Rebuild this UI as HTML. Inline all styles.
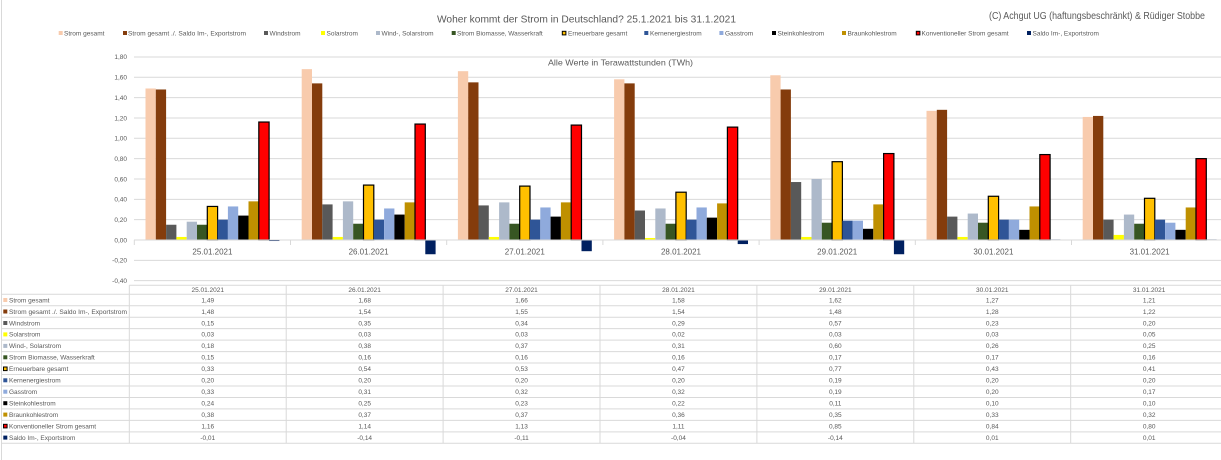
<!DOCTYPE html>
<html>
<head>
<meta charset="utf-8">
<style>
html,body{margin:0;padding:0;background:#fff;}
svg{display:block;font-family:"Liberation Sans",Arial,sans-serif;}
.t{fill:#595959;}
.c0{fill:#F8CBAD}.c1{fill:#843C0C}.c2{fill:#595959}.c3{fill:#FFFF00}.c4{fill:#ADB9CA}.c5{fill:#375623}
.c6{fill:#FFC000;stroke:#000;stroke-width:1.2}.c7{fill:#2F5597}.c8{fill:#8FAADC}.c9{fill:#000}.c10{fill:#BF9000}
.c11{fill:#FF0000;stroke:#000;stroke-width:1.2}.c12{fill:#002060}
.g{stroke:#D9D9D9;stroke-width:1;fill:none}
.lg{font-size:6.5px;fill:#595959}
.yl{font-size:6.5px;fill:#595959;text-anchor:end}
.tv{font-size:6.5px;fill:#595959;text-anchor:middle}
</style>
</head>
<body>
<svg width="1221" height="460" viewBox="0 0 1221 460" xmlns="http://www.w3.org/2000/svg">
<rect x="0" y="0" width="1221" height="460" fill="#fff"/>
<line class="g" x1="1.5" y1="0" x2="1.5" y2="460"/>

<!-- Title -->
<text x="437" y="22.7" font-size="10.5" class="t" textLength="299" lengthAdjust="spacingAndGlyphs">Woher kommt der Strom in Deutschland? 25.1.2021 bis 31.1.2021</text>
<text x="989" y="19" font-size="10" class="t" textLength="216" lengthAdjust="spacingAndGlyphs">(C) Achgut UG (haftungsbeschränkt) &amp; Rüdiger Stobbe</text>

<!-- Legend -->
<g>
<rect class="c0" x="58.7" y="31" width="4" height="4"/><text class="lg" x="64" y="35.4">Strom gesamt</text>
<rect class="c1" x="123" y="31" width="4" height="4"/><text class="lg" x="128" y="35.4" textLength="118" lengthAdjust="spacingAndGlyphs">Strom gesamt ./. Saldo Im-, Exportstrom</text>
<rect class="c2" x="264" y="31" width="4" height="4"/><text class="lg" x="269.5" y="35.4">Windstrom</text>
<rect class="c3" x="321" y="31" width="4" height="4"/><text class="lg" x="326.5" y="35.4">Solarstrom</text>
<rect class="c4" x="376" y="31" width="4" height="4"/><text class="lg" x="381.5" y="35.4">Wind-, Solarstrom</text>
<rect class="c5" x="451.7" y="31" width="4" height="4"/><text class="lg" x="457" y="35.4">Strom Biomasse, Wasserkraft</text>
<rect class="c6" x="562.3" y="31.3" width="3.6" height="3.6" style="stroke-width:1"/><text class="lg" x="568" y="35.4">Erneuerbare gesamt</text>
<rect class="c7" x="644.3" y="31" width="4" height="4"/><text class="lg" x="650" y="35.4">Kernenergiestrom</text>
<rect class="c8" x="719.4" y="31" width="4" height="4"/><text class="lg" x="725" y="35.4">Gasstrom</text>
<rect class="c9" x="772" y="31" width="4" height="4"/><text class="lg" x="777.5" y="35.4">Steinkohlestrom</text>
<rect class="c10" x="842" y="31" width="4" height="4"/><text class="lg" x="847.5" y="35.4">Braunkohlestrom</text>
<rect class="c11" x="916.3" y="31.3" width="3.6" height="3.6" style="stroke-width:1"/><text class="lg" x="921.5" y="35.4">Konventioneller Strom gesamt</text>
<rect class="c12" x="1027" y="31" width="4" height="4"/><text class="lg" x="1032.5" y="35.4">Saldo Im-, Exportstrom</text>
</g>

<!-- Gridlines -->
<g class="g">
<line x1="134" y1="56.94" x2="1221" y2="56.94"/>
<line x1="134" y1="77.28" x2="1221" y2="77.28"/>
<line x1="134" y1="97.62" x2="1221" y2="97.62"/>
<line x1="134" y1="117.96" x2="1221" y2="117.96"/>
<line x1="134" y1="138.3" x2="1221" y2="138.3"/>
<line x1="134" y1="158.64" x2="1221" y2="158.64"/>
<line x1="134" y1="178.98" x2="1221" y2="178.98"/>
<line x1="134" y1="199.32" x2="1221" y2="199.32"/>
<line x1="134" y1="219.66" x2="1221" y2="219.66"/>
<line x1="134" y1="260.34" x2="1221" y2="260.34"/>
<line x1="134" y1="280.68" x2="1221" y2="280.68"/>
</g>

<!-- Y labels -->
<g>
<text class="yl" x="127" y="59.2">1,80</text>
<text class="yl" x="127" y="79.6">1,60</text>
<text class="yl" x="127" y="99.9">1,40</text>
<text class="yl" x="127" y="120.3">1,20</text>
<text class="yl" x="127" y="140.6">1,00</text>
<text class="yl" x="127" y="160.9">0,80</text>
<text class="yl" x="127" y="181.3">0,60</text>
<text class="yl" x="127" y="201.6">0,40</text>
<text class="yl" x="127" y="222">0,20</text>
<text class="yl" x="127" y="242.3">0,00</text>
<text class="yl" x="127" y="262.6">-0,20</text>
<text class="yl" x="127" y="283">-0,40</text>
</g>

<text x="548" y="65.5" font-size="8.5" class="t" textLength="145" lengthAdjust="spacingAndGlyphs">Alle Werte in Terawattstunden (TWh)</text>

<!-- Bars -->
<g transform="translate(145.5,240) scale(1,-1)">
<rect class="c0" x="0" y="0" width="10.3" height="151.53"/>
<rect class="c1" x="10.3" y="0" width="10.3" height="150.52"/>
<rect class="c2" x="20.6" y="0" width="10.3" height="15.26"/>
<rect class="c3" x="30.9" y="0" width="10.3" height="3.05"/>
<rect class="c4" x="41.2" y="0" width="10.3" height="18.31"/>
<rect class="c5" x="51.5" y="0" width="10.3" height="15.26"/>
<rect class="c6" x="61.8" y="0" width="10.3" height="33.56"/>
<rect class="c7" x="72.1" y="0" width="10.3" height="20.34"/>
<rect class="c8" x="82.4" y="0" width="10.3" height="33.56"/>
<rect class="c9" x="92.7" y="0" width="10.3" height="24.41"/>
<rect class="c10" x="103" y="0" width="10.3" height="38.65"/>
<rect class="c11" x="113.3" y="0" width="10.3" height="117.97"/>
<rect class="c12" x="123.6" y="-1.02" width="10.3" height="1.02"/>
</g>
<g transform="translate(301.7,240) scale(1,-1)">
<rect class="c0" x="0" y="0" width="10.3" height="170.86"/>
<rect class="c1" x="10.3" y="0" width="10.3" height="156.62"/>
<rect class="c2" x="20.6" y="0" width="10.3" height="35.6"/>
<rect class="c3" x="30.9" y="0" width="10.3" height="3.05"/>
<rect class="c4" x="41.2" y="0" width="10.3" height="38.65"/>
<rect class="c5" x="51.5" y="0" width="10.3" height="16.27"/>
<rect class="c6" x="61.8" y="0" width="10.3" height="54.92"/>
<rect class="c7" x="72.1" y="0" width="10.3" height="20.34"/>
<rect class="c8" x="82.4" y="0" width="10.3" height="31.53"/>
<rect class="c9" x="92.7" y="0" width="10.3" height="25.43"/>
<rect class="c10" x="103" y="0" width="10.3" height="37.63"/>
<rect class="c11" x="113.3" y="0" width="10.3" height="115.94"/>
<rect class="c12" x="123.6" y="-14.24" width="10.3" height="14.24"/>
</g>
<g transform="translate(457.9,240) scale(1,-1)">
<rect class="c0" x="0" y="0" width="10.3" height="168.82"/>
<rect class="c1" x="10.3" y="0" width="10.3" height="157.64"/>
<rect class="c2" x="20.6" y="0" width="10.3" height="34.58"/>
<rect class="c3" x="30.9" y="0" width="10.3" height="3.05"/>
<rect class="c4" x="41.2" y="0" width="10.3" height="37.63"/>
<rect class="c5" x="51.5" y="0" width="10.3" height="16.27"/>
<rect class="c6" x="61.8" y="0" width="10.3" height="53.9"/>
<rect class="c7" x="72.1" y="0" width="10.3" height="20.34"/>
<rect class="c8" x="82.4" y="0" width="10.3" height="32.54"/>
<rect class="c9" x="92.7" y="0" width="10.3" height="23.39"/>
<rect class="c10" x="103" y="0" width="10.3" height="37.63"/>
<rect class="c11" x="113.3" y="0" width="10.3" height="114.92"/>
<rect class="c12" x="123.6" y="-11.19" width="10.3" height="11.19"/>
</g>
<g transform="translate(614.1,240) scale(1,-1)">
<rect class="c0" x="0" y="0" width="10.3" height="160.69"/>
<rect class="c1" x="10.3" y="0" width="10.3" height="156.62"/>
<rect class="c2" x="20.6" y="0" width="10.3" height="29.49"/>
<rect class="c3" x="30.9" y="0" width="10.3" height="2.03"/>
<rect class="c4" x="41.2" y="0" width="10.3" height="31.53"/>
<rect class="c5" x="51.5" y="0" width="10.3" height="16.27"/>
<rect class="c6" x="61.8" y="0" width="10.3" height="47.8"/>
<rect class="c7" x="72.1" y="0" width="10.3" height="20.34"/>
<rect class="c8" x="82.4" y="0" width="10.3" height="32.54"/>
<rect class="c9" x="92.7" y="0" width="10.3" height="22.37"/>
<rect class="c10" x="103" y="0" width="10.3" height="36.61"/>
<rect class="c11" x="113.3" y="0" width="10.3" height="112.89"/>
<rect class="c12" x="123.6" y="-4.07" width="10.3" height="4.07"/>
</g>
<g transform="translate(770.3,240) scale(1,-1)">
<rect class="c0" x="0" y="0" width="10.3" height="164.75"/>
<rect class="c1" x="10.3" y="0" width="10.3" height="150.52"/>
<rect class="c2" x="20.6" y="0" width="10.3" height="57.97"/>
<rect class="c3" x="30.9" y="0" width="10.3" height="3.05"/>
<rect class="c4" x="41.2" y="0" width="10.3" height="61.02"/>
<rect class="c5" x="51.5" y="0" width="10.3" height="17.29"/>
<rect class="c6" x="61.8" y="0" width="10.3" height="78.31"/>
<rect class="c7" x="72.1" y="0" width="10.3" height="19.32"/>
<rect class="c8" x="82.4" y="0" width="10.3" height="19.32"/>
<rect class="c9" x="92.7" y="0" width="10.3" height="11.19"/>
<rect class="c10" x="103" y="0" width="10.3" height="35.6"/>
<rect class="c11" x="113.3" y="0" width="10.3" height="86.45"/>
<rect class="c12" x="123.6" y="-14.24" width="10.3" height="14.24"/>
</g>
<g transform="translate(926.5,240) scale(1,-1)">
<rect class="c0" x="0" y="0" width="10.3" height="129.16"/>
<rect class="c1" x="10.3" y="0" width="10.3" height="130.18"/>
<rect class="c2" x="20.6" y="0" width="10.3" height="23.39"/>
<rect class="c3" x="30.9" y="0" width="10.3" height="3.05"/>
<rect class="c4" x="41.2" y="0" width="10.3" height="26.44"/>
<rect class="c5" x="51.5" y="0" width="10.3" height="17.29"/>
<rect class="c6" x="61.8" y="0" width="10.3" height="43.73"/>
<rect class="c7" x="72.1" y="0" width="10.3" height="20.34"/>
<rect class="c8" x="82.4" y="0" width="10.3" height="20.34"/>
<rect class="c9" x="92.7" y="0" width="10.3" height="10.17"/>
<rect class="c10" x="103" y="0" width="10.3" height="33.56"/>
<rect class="c11" x="113.3" y="0" width="10.3" height="85.43"/>
<rect class="c12" x="123.6" y="0" width="10.3" height="0.6"/>
</g>
<g transform="translate(1082.7,240) scale(1,-1)">
<rect class="c0" x="0" y="0" width="10.3" height="123.06"/>
<rect class="c1" x="10.3" y="0" width="10.3" height="124.07"/>
<rect class="c2" x="20.6" y="0" width="10.3" height="20.34"/>
<rect class="c3" x="30.9" y="0" width="10.3" height="5.09"/>
<rect class="c4" x="41.2" y="0" width="10.3" height="25.43"/>
<rect class="c5" x="51.5" y="0" width="10.3" height="16.27"/>
<rect class="c6" x="61.8" y="0" width="10.3" height="41.7"/>
<rect class="c7" x="72.1" y="0" width="10.3" height="20.34"/>
<rect class="c8" x="82.4" y="0" width="10.3" height="17.29"/>
<rect class="c9" x="92.7" y="0" width="10.3" height="10.17"/>
<rect class="c10" x="103" y="0" width="10.3" height="32.54"/>
<rect class="c11" x="113.3" y="0" width="10.3" height="81.36"/>
<rect class="c12" x="123.6" y="0" width="10.3" height="0.6"/>
</g>

<!-- X axis -->
<g class="g">
<line x1="134" y1="240" x2="1221" y2="240"/>
<line x1="134.3" y1="240" x2="134.3" y2="245"/>
<line x1="290.5" y1="240" x2="290.5" y2="245"/>
<line x1="446.7" y1="240" x2="446.7" y2="245"/>
<line x1="602.9" y1="240" x2="602.9" y2="245"/>
<line x1="759.1" y1="240" x2="759.1" y2="245"/>
<line x1="915.3" y1="240" x2="915.3" y2="245"/>
<line x1="1071.5" y1="240" x2="1071.5" y2="245"/>
</g>
<g font-size="8" class="t" text-anchor="middle">
<text x="212.4" y="254.6">25.01.2021</text>
<text x="368.6" y="254.6">26.01.2021</text>
<text x="524.8" y="254.6">27.01.2021</text>
<text x="681" y="254.6">28.01.2021</text>
<text x="837.2" y="254.6">29.01.2021</text>
<text x="993.4" y="254.6">30.01.2021</text>
<text x="1149.6" y="254.6">31.01.2021</text>
</g>

<!-- Table lines -->
<g class="g">
<line x1="129.3" y1="285.3" x2="1221" y2="285.3"/>
<line x1="2" y1="294.3" x2="1221" y2="294.3"/>
<line x1="2" y1="305.76" x2="1221" y2="305.76"/>
<line x1="2" y1="317.22" x2="1221" y2="317.22"/>
<line x1="2" y1="328.68" x2="1221" y2="328.68"/>
<line x1="2" y1="340.14" x2="1221" y2="340.14"/>
<line x1="2" y1="351.6" x2="1221" y2="351.6"/>
<line x1="2" y1="363.06" x2="1221" y2="363.06"/>
<line x1="2" y1="374.52" x2="1221" y2="374.52"/>
<line x1="2" y1="385.98" x2="1221" y2="385.98"/>
<line x1="2" y1="397.44" x2="1221" y2="397.44"/>
<line x1="2" y1="408.9" x2="1221" y2="408.9"/>
<line x1="2" y1="420.36" x2="1221" y2="420.36"/>
<line x1="2" y1="431.82" x2="1221" y2="431.82"/>
<line x1="2" y1="443.28" x2="1221" y2="443.28"/>
<line x1="129.3" y1="285.3" x2="129.3" y2="443.28"/>
<line x1="286.2" y1="285.3" x2="286.2" y2="443.28"/>
<line x1="443.1" y1="285.3" x2="443.1" y2="443.28"/>
<line x1="600" y1="285.3" x2="600" y2="443.28"/>
<line x1="756.9" y1="285.3" x2="756.9" y2="443.28"/>
<line x1="913.8" y1="285.3" x2="913.8" y2="443.28"/>
<line x1="1070.7" y1="285.3" x2="1070.7" y2="443.28"/>
</g>

<!-- Table header -->
<g class="tv">
<text x="207.75" y="291.8">25.01.2021</text>
<text x="364.65" y="291.8">26.01.2021</text>
<text x="521.55" y="291.8">27.01.2021</text>
<text x="678.45" y="291.8">28.01.2021</text>
<text x="835.35" y="291.8">29.01.2021</text>
<text x="992.25" y="291.8">30.01.2021</text>
<text x="1149.15" y="291.8">31.01.2021</text>
</g>

<!-- Row labels -->
<g>
<rect class="c0" x="3.3" y="298" width="4" height="4"/><text class="lg" x="9" y="302.3">Strom gesamt</text>
<rect class="c1" x="3.3" y="309.5" width="4" height="4"/><text class="lg" x="9" y="313.8" textLength="118" lengthAdjust="spacingAndGlyphs">Strom gesamt ./. Saldo Im-, Exportstrom</text>
<rect class="c2" x="3.3" y="321" width="4" height="4"/><text class="lg" x="9" y="325.3">Windstrom</text>
<rect class="c3" x="3.3" y="332.4" width="4" height="4"/><text class="lg" x="9" y="336.7">Solarstrom</text>
<rect class="c4" x="3.3" y="343.9" width="4" height="4"/><text class="lg" x="9" y="348.2">Wind-, Solarstrom</text>
<rect class="c5" x="3.3" y="355.3" width="4" height="4"/><text class="lg" x="9" y="359.6">Strom Biomasse, Wasserkraft</text>
<rect class="c6" x="3.5" y="367" width="3.6" height="3.6" style="stroke-width:1"/><text class="lg" x="9" y="371.1">Erneuerbare gesamt</text>
<rect class="c7" x="3.3" y="378.3" width="4" height="4"/><text class="lg" x="9" y="382.6">Kernenergiestrom</text>
<rect class="c8" x="3.3" y="389.7" width="4" height="4"/><text class="lg" x="9" y="394">Gasstrom</text>
<rect class="c9" x="3.3" y="401.2" width="4" height="4"/><text class="lg" x="9" y="405.5">Steinkohlestrom</text>
<rect class="c10" x="3.3" y="412.6" width="4" height="4"/><text class="lg" x="9" y="416.9">Braunkohlestrom</text>
<rect class="c11" x="3.5" y="424.3" width="3.6" height="3.6" style="stroke-width:1"/><text class="lg" x="9" y="428.4">Konventioneller Strom gesamt</text>
<rect class="c12" x="3.3" y="435.6" width="4" height="4"/><text class="lg" x="9" y="439.9">Saldo Im-, Exportstrom</text>
</g>

<!-- Table values -->
<g class="tv">
<text x="207.75" y="302.3">1,49</text><text x="364.65" y="302.3">1,68</text><text x="521.55" y="302.3">1,66</text><text x="678.45" y="302.3">1,58</text><text x="835.35" y="302.3">1,62</text><text x="992.25" y="302.3">1,27</text><text x="1149.15" y="302.3">1,21</text>
<text x="207.75" y="313.8">1,48</text><text x="364.65" y="313.8">1,54</text><text x="521.55" y="313.8">1,55</text><text x="678.45" y="313.8">1,54</text><text x="835.35" y="313.8">1,48</text><text x="992.25" y="313.8">1,28</text><text x="1149.15" y="313.8">1,22</text>
<text x="207.75" y="325.3">0,15</text><text x="364.65" y="325.3">0,35</text><text x="521.55" y="325.3">0,34</text><text x="678.45" y="325.3">0,29</text><text x="835.35" y="325.3">0,57</text><text x="992.25" y="325.3">0,23</text><text x="1149.15" y="325.3">0,20</text>
<text x="207.75" y="336.7">0,03</text><text x="364.65" y="336.7">0,03</text><text x="521.55" y="336.7">0,03</text><text x="678.45" y="336.7">0,02</text><text x="835.35" y="336.7">0,03</text><text x="992.25" y="336.7">0,03</text><text x="1149.15" y="336.7">0,05</text>
<text x="207.75" y="348.2">0,18</text><text x="364.65" y="348.2">0,38</text><text x="521.55" y="348.2">0,37</text><text x="678.45" y="348.2">0,31</text><text x="835.35" y="348.2">0,60</text><text x="992.25" y="348.2">0,26</text><text x="1149.15" y="348.2">0,25</text>
<text x="207.75" y="359.6">0,15</text><text x="364.65" y="359.6">0,16</text><text x="521.55" y="359.6">0,16</text><text x="678.45" y="359.6">0,16</text><text x="835.35" y="359.6">0,17</text><text x="992.25" y="359.6">0,17</text><text x="1149.15" y="359.6">0,16</text>
<text x="207.75" y="371.1">0,33</text><text x="364.65" y="371.1">0,54</text><text x="521.55" y="371.1">0,53</text><text x="678.45" y="371.1">0,47</text><text x="835.35" y="371.1">0,77</text><text x="992.25" y="371.1">0,43</text><text x="1149.15" y="371.1">0,41</text>
<text x="207.75" y="382.6">0,20</text><text x="364.65" y="382.6">0,20</text><text x="521.55" y="382.6">0,20</text><text x="678.45" y="382.6">0,20</text><text x="835.35" y="382.6">0,19</text><text x="992.25" y="382.6">0,20</text><text x="1149.15" y="382.6">0,20</text>
<text x="207.75" y="394">0,33</text><text x="364.65" y="394">0,31</text><text x="521.55" y="394">0,32</text><text x="678.45" y="394">0,32</text><text x="835.35" y="394">0,19</text><text x="992.25" y="394">0,20</text><text x="1149.15" y="394">0,17</text>
<text x="207.75" y="405.5">0,24</text><text x="364.65" y="405.5">0,25</text><text x="521.55" y="405.5">0,23</text><text x="678.45" y="405.5">0,22</text><text x="835.35" y="405.5">0,11</text><text x="992.25" y="405.5">0,10</text><text x="1149.15" y="405.5">0,10</text>
<text x="207.75" y="416.9">0,38</text><text x="364.65" y="416.9">0,37</text><text x="521.55" y="416.9">0,37</text><text x="678.45" y="416.9">0,36</text><text x="835.35" y="416.9">0,35</text><text x="992.25" y="416.9">0,33</text><text x="1149.15" y="416.9">0,32</text>
<text x="207.75" y="428.4">1,16</text><text x="364.65" y="428.4">1,14</text><text x="521.55" y="428.4">1,13</text><text x="678.45" y="428.4">1,11</text><text x="835.35" y="428.4">0,85</text><text x="992.25" y="428.4">0,84</text><text x="1149.15" y="428.4">0,80</text>
<text x="207.75" y="439.9">-0,01</text><text x="364.65" y="439.9">-0,14</text><text x="521.55" y="439.9">-0,11</text><text x="678.45" y="439.9">-0,04</text><text x="835.35" y="439.9">-0,14</text><text x="992.25" y="439.9">0,01</text><text x="1149.15" y="439.9">0,01</text>
</g>
</svg>
</body>
</html>
